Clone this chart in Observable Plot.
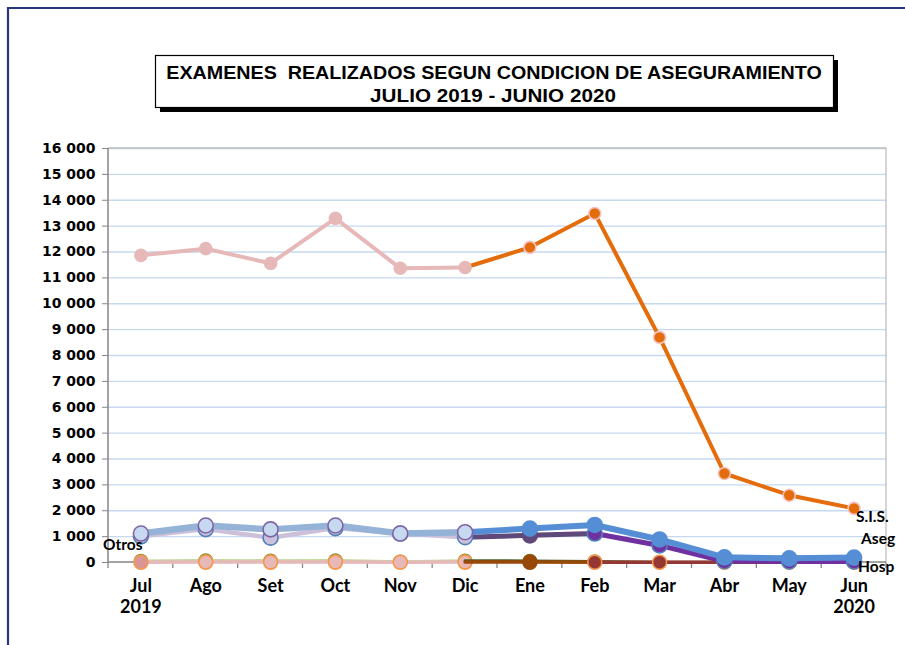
<!DOCTYPE html>
<html>
<head>
<meta charset="utf-8">
<script src="https://cdn.jsdelivr.net/npm/d3@7"></script>
<script src="https://cdn.jsdelivr.net/npm/@observablehq/plot@0.6"></script>
<style>
  html, body { margin: 0; padding: 0; background: #fff; }
  #chart { width: 905px; height: 645px; overflow: hidden; }
</style>
</head>
<body>
<div id="chart"></div>
<script>
// ---- data ----
const months = ["Jul","Ago","Set","Oct","Nov","Dic","Ene","Feb","Mar","Abr","May","Jun"];
const yTicks = [0,1000,2000,3000,4000,5000,6000,7000,8000,9000,10000,11000,12000,13000,14000,15000,16000];
const titleLine1 = "EXAMENES  REALIZADOS SEGUN CONDICION DE ASEGURAMIENTO";
const titleLine2 = "JULIO 2019 - JUNIO 2020";
const sis   = [11870, 12130, 11560, 13300, 11370, 11400, 12180, 13490, 8700, 3440, 2600, 2090];
const aseg  = [1120, 1430, 1280, 1430, 1120, 1170, 1310, 1450, 890, 200, 160, 190];
const otros = [1010, 1290, 960, 1330, 1120, 980, 1050, 1120, 660, 50, 40, 40];
const verde = [60, 80, 70, 80, 30, 70, 60, 40, 10, 5, 5, 5];
const hosp  = [10, 15, 15, 15, 10, 15, 15, 10, 10, 10, 10, 10];
const yearLabels = [{m: "Jul", t: "2019"}, {m: "Jun", t: "2020"}];

const rows = vals => vals.map((v, i) => ({m: months[i], v}));
function seg(vals, from, to, stroke, w) {
  return Plot.line(rows(vals).slice(from, to + 1), {x: "m", y: "v", stroke, strokeWidth: w, strokeLinejoin: "round", strokeLinecap: "round"});
}
function dots(vals, from, to, fill, stroke, r) {
  return Plot.dot(rows(vals).slice(from, to + 1), {x: "m", y: "v", fill, stroke, r, strokeWidth: 1.6});
}
const fmt = d => d3.format(",")(d).replace(/,/g, " ");
const labFont = "Lato, 'Open Sans', sans-serif";
const lab = (txt, m, dx, dy) => Plot.text([txt], {x: () => m, frameAnchor: "bottom", dx, dy, textAnchor: "start", fontSize: 15.5, fontWeight: "bold", fontFamily: labFont, fill: "#000"});

const plot = Plot.plot({
  width: 905,
  height: 645,
  marginLeft: 108,
  marginRight: 19,
  marginTop: 148,
  marginBottom: 83,
  style: {background: "#fff", fontFamily: "'DejaVu Sans', Verdana, sans-serif", color: "#000"},
  x: {type: "point", domain: months, padding: 0.5, round: false},
  y: {domain: [0, 16000]},
  marks: [
    Plot.gridY(yTicks.slice(1), {stroke: "#c6d9f1", strokeOpacity: 1, strokeWidth: 1.3}),
    Plot.axisY({ticks: yTicks, tickSize: 6, stroke: "#868686", tickFormat: fmt, fontSize: 14, fontWeight: "bold", fontFamily: "'DejaVu Sans', Verdana, sans-serif", fill: "#000", tickPadding: 7, label: null}),
    Plot.axisX({tickSize: 0, tickPadding: 17, fontSize: 18, fontWeight: "bold", fontFamily: labFont, fill: "#000", label: null}),
    Plot.text(yearLabels, {x: "m", text: "t", frameAnchor: "bottom", dy: 50, fontSize: 18, fontWeight: "bold", fontFamily: labFont, fill: "#000"}),
    // Hosp / green (near zero)
    seg(verde, 0, 5, "#c3d69b", 3),
    seg(hosp, 0, 5, "#e6b9b8", 3.5),
    dots(verde, 0, 5, "#9bbb59", "#77933c", 6.5),
    dots(hosp, 0, 0, "#da9694", "#f79646", 7),
    dots(hosp, 1, 5, "#e6b9b8", "#f79646", 7),
    seg(verde, 5, 11, "#4f6228", 3),
    seg(hosp, 5, 7, "#984807", 3.5),
    seg(hosp, 7, 11, "#953735", 3.5),
    dots(verde, 6, 7, "#9bbb59", "#77933c", 6.5),
    dots(hosp, 6, 6, "#984807", "#984807", 7),
    dots(hosp, 7, 11, "#953735", "#f79646", 7),
    // Otros (purple)
    seg(otros, 0, 5, "#ccc0da", 4.5),
    seg(otros, 5, 7, "#5f497a", 5),
    seg(otros, 7, 11, "#7030a0", 5),
    dots(otros, 0, 5, "#ccc0da", "#4f81bd", 7.5),
    dots(otros, 6, 6, "#5f497a", "#5f497a", 7.5),
    dots(otros, 7, 11, "#7030a0", "#4f81bd", 7.5),
    // Aseg (blue)
    seg(aseg, 0, 5, "#95b3d7", 6.5),
    seg(aseg, 5, 11, "#558ed5", 6),
    dots(aseg, 0, 5, "#c6d9f1", "#8064a2", 7.5),
    dots(aseg, 6, 11, "#558ed5", "#558ed5", 7.5),
    // S.I.S.
    seg(sis, 0, 5, "#e6b9b8", 4),
    seg(sis, 5, 11, "#e46c0a", 4),
    dots(sis, 0, 5, "#e6b9b8", "#e6b9b8", 6),
    dots(sis, 6, 11, "#e46c0a", "#f2c4c4", 6),
    // series labels
    lab("S.I.S.", "Jun", 2, -41),
    lab("Aseg", "Jun", 7, -19),
    lab("Hosp", "Jun", 4, 9),
    lab("Otros", "Jul", -38, -13)
  ]
});

document.getElementById("chart").appendChild(plot);

// post-render decorations using plot scales
const svg = d3.select(plot);
const xs = plot.scale("x"), ys = plot.scale("y");
const step = xs.apply(months[1]) - xs.apply(months[0]);
const left = xs.apply(months[0]) - step / 2;
const right = xs.apply(months[months.length - 1]) + step / 2;
const y0 = ys.apply(0), yTop = ys.apply(16000);
const firstLine = svg.select('g[aria-label="line"]').node();
const deco = firstLine ? d3.select(plot.insertBefore(document.createElementNS("http://www.w3.org/2000/svg", "g"), firstLine)) : svg.append("g");
deco.append("path").attr("d", `M${left},${yTop}H${right}V${y0}`).attr("fill", "none").attr("stroke", "#bfbfbf").attr("stroke-width", 1.3);
deco.append("line").attr("x1", left).attr("x2", left).attr("y1", yTop).attr("y2", y0 + 0.5).attr("stroke", "#868686").attr("stroke-width", 1.5);
deco.append("line").attr("x1", left).attr("x2", right).attr("y1", y0).attr("y2", y0).attr("stroke", "#868686").attr("stroke-width", 1.5);
for (let k = 0; k <= months.length; k++) {
  const xx = left + k * step;
  deco.append("line").attr("x1", xx).attr("x2", xx).attr("y1", y0).attr("y2", y0 + 6).attr("stroke", "#868686").attr("stroke-width", 1.3);
}
// outer chart frame (navy)
svg.append("path").attr("d", "M8,645V8H905").attr("fill", "none").attr("stroke", "#2b347f").attr("stroke-width", 2.2);
// title box with shadow
const tb = svg.append("g");
tb.append("rect").attr("x", 160).attr("y", 60).attr("width", 678).attr("height", 52).attr("fill", "#000");
tb.append("rect").attr("x", 155.5).attr("y", 55.5).attr("width", 678).attr("height", 52).attr("fill", "#fff").attr("stroke", "#000").attr("stroke-width", 1.2);
const tf = "'Liberation Sans', Arial, sans-serif";
function titleText(txt, cx, cy, targetW) {
  const t = tb.append("text").attr("text-anchor", "middle").attr("font-family", tf)
    .attr("font-weight", "bold").attr("font-size", 19).attr("fill", "#000").text(txt);
  const w = t.node().getComputedTextLength() || targetW;
  t.attr("transform", `translate(${cx},${cy}) scale(${targetW / w},1)`);
}
titleText(titleLine1, 494, 79, 656);
titleText(titleLine2, 493, 102, 246);
</script>
</body>
</html>
